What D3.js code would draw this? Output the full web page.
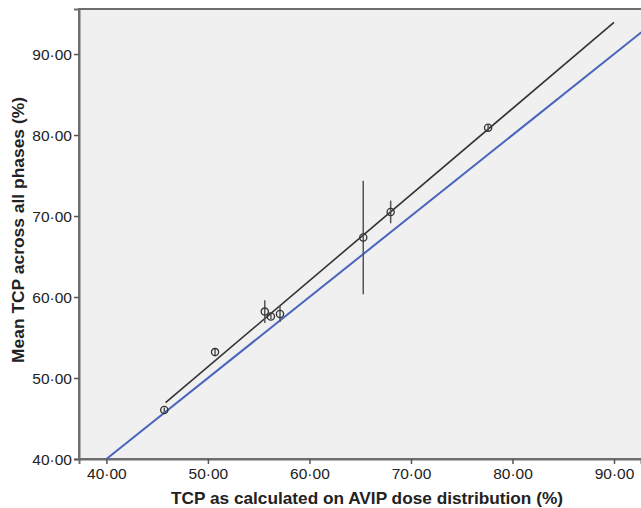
<!DOCTYPE html>
<html>
<head>
<meta charset="utf-8">
<script src="https://cdn.jsdelivr.net/npm/d3@7"></script>
<style>
  body { margin: 0; background: #fff; }
  svg { display: block; font-family: "Liberation Sans", Arial, sans-serif; }
</style>
</head>
<body>
<div id="chart"></div>
<script>
// values
let avipTcp  = [45.7, 50.7, 55.6, 56.2, 57.1, 65.3, 68.0, 77.6];
let meanTcp  = [46.05, 53.2, 58.2, 57.6, 57.9, 67.35, 70.5, 80.9];
let errHalf  = [0.3, 0.5, 1.4, 0.3, 1.0, 7.0, 1.4, 0.4];
let fitLine  = [[45.83, 46.95], [90, 93.9]];
let identity = [[40, 40], [92.7, 92.7]];
let xTicks = [40, 50, 60, 70, 80, 90];
let yTicks = [40, 50, 60, 70, 80, 90];

let W = 641, H = 508;
let margin = { top: 9, right: 0, bottom: 49, left: 79 };

let svg = d3.select("#chart").append("svg")
  .attr("width", W)
  .attr("height", H);

let x = d3.scaleLinear()
  .domain([37.3, 92.66])
  .range([margin.left, W - margin.right]);

let y = d3.scaleLinear()
  .domain([40, 95.56])
  .range([H - margin.bottom, margin.top]);

let fmt = d => d3.format(".2f")(d).replace(".", "\u00b7");

// plot background
svg.append("rect")
  .attr("x", margin.left)
  .attr("y", margin.top)
  .attr("width", W - margin.left + 5)
  .attr("height", H - margin.top - margin.bottom)
  .attr("fill", "#f0f0f0")
  .attr("stroke", "#6e6e6e")
  .attr("stroke-width", 2);

let xAxis = svg.append("g")
  .attr("transform", "translate(0," + (H - margin.bottom) + ")")
  .call(d3.axisBottom(x).tickValues(xTicks).tickFormat(fmt).tickSize(5).tickPadding(4));

let yAxis = svg.append("g")
  .attr("transform", "translate(" + margin.left + ",0)")
  .call(d3.axisLeft(y).tickValues(yTicks).tickFormat(fmt).tickSize(5).tickPadding(2));

[xAxis, yAxis].forEach(a => {
  a.select(".domain").attr("stroke", "#6e6e6e").attr("stroke-width", 2);
  a.selectAll(".tick line").attr("stroke", "#555").attr("stroke-width", 1.5);
  a.selectAll(".tick text")
    .attr("fill", "#222")
    .style("font-size", "15.5px")
    .style("font-family", "'Liberation Sans', Arial, sans-serif");
});
yAxis.selectAll(".tick text").attr("dy", "0.35em");

let line = d3.line().x(d => x(d[0])).y(d => y(d[1]));

// identity line
svg.append("path")
  .datum(identity)
  .attr("d", line)
  .attr("fill", "none")
  .attr("stroke", "#4a64bd")
  .attr("stroke-width", 2);

// fit line
svg.append("path")
  .datum(fitLine)
  .attr("d", line)
  .attr("fill", "none")
  .attr("stroke", "#333")
  .attr("stroke-width", 1.6);

let pts = avipTcp.map((v, i) => ({ x: v, y: meanTcp[i], e: errHalf[i] }));

// error bars
svg.selectAll(".err")
  .data(pts)
  .enter().append("line")
  .attr("class", "err")
  .attr("x1", d => x(d.x))
  .attr("x2", d => x(d.x))
  .attr("y1", d => y(d.y - d.e))
  .attr("y2", d => y(d.y + d.e))
  .attr("stroke", "#555")
  .attr("stroke-width", 1.5);

// markers
svg.selectAll(".pt")
  .data(pts)
  .enter().append("circle")
  .attr("class", "pt")
  .attr("cx", d => x(d.x))
  .attr("cy", d => y(d.y))
  .attr("r", 3.6)
  .attr("fill", "none")
  .attr("stroke", "#333")
  .attr("stroke-width", 1.3);

// axis titles
svg.append("text")
  .attr("x", 367)
  .attr("y", 503.5)
  .attr("text-anchor", "middle")
  .attr("textLength", 392)
  .attr("lengthAdjust", "spacingAndGlyphs")
  .style("font-size", "16.5px")
  .style("font-weight", "bold")
  .attr("fill", "#222")
  .text("TCP as calculated on AVIP dose distribution (%)");

svg.append("text")
  .attr("transform", "translate(24,230) rotate(-90)")
  .attr("text-anchor", "middle")
  .attr("textLength", 266)
  .attr("lengthAdjust", "spacingAndGlyphs")
  .style("font-size", "16.5px")
  .style("font-weight", "bold")
  .attr("fill", "#222")
  .text("Mean TCP across all phases (%)");
</script>
</body>
</html>
